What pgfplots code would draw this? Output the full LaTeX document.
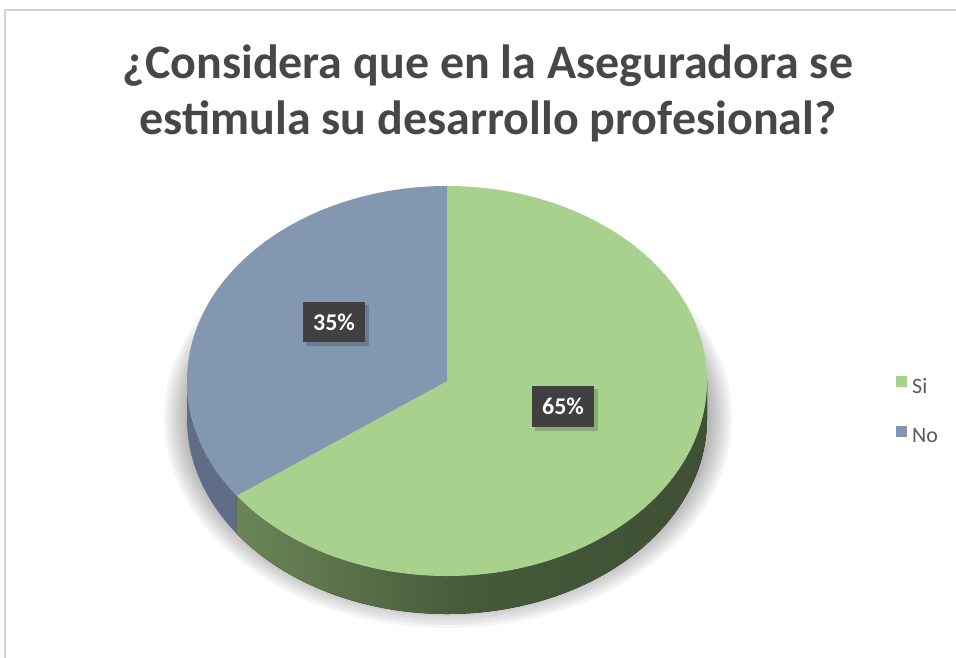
\documentclass[border=0pt]{standalone}
\usepackage{pgfplots}
\pgfplotsset{compat=1.18}
\usepackage{pgfplotstable}
\usepackage{fontspec}
\setmainfont{Carlito}
\definecolor{sigreen}{HTML}{A9D18E}
\definecolor{noblue}{HTML}{8497B0}
\definecolor{noside}{HTML}{5F6E86}
\definecolor{gsideL}{HTML}{6A8656}
\definecolor{gsideM}{HTML}{46593A}
\definecolor{gsideR}{HTML}{3F5034}
\definecolor{labbox}{HTML}{404040}
\definecolor{titlecol}{HTML}{474747}
\definecolor{legcol}{HTML}{595959}
\definecolor{bordercol}{HTML}{D4D4D4}
\begin{document}
\begin{tikzpicture}
\pgfplotstableread{
label value
Si 65
No 35
}\piedata
\pgfplotstablegetelem{0}{value}\of\piedata \let\vsi\pgfplotsretval
\pgfplotstablegetelem{1}{value}\of\piedata \let\vno\pgfplotsretval
\def\cx{447}\def\cy{381}\def\rx{260}\def\ry{195}\def\dep{38}
\pgfmathsetmacro\aend{90-3.6*\vsi+360}% boundary angle (216)
\pgfmathsetmacro\aendneg{\aend-360}
\pgfmathsetmacro\bx{\cx+\rx*cos(\aend)}
\pgfmathsetmacro\by{\cy-\ry*sin(\aend)}
\pgfmathsetmacro\lx{\cx-\rx}
\pgfmathsetmacro\ty{\cy-\ry}
\useasboundingbox (0,0) rectangle (956pt,657pt);
\begin{axis}[width=956pt,height=657pt,scale only axis,
  xmin=0,xmax=956,ymin=0,ymax=657,y dir=reverse,
  hide axis,clip=false,anchor=south west,at={(0,0)}]
% chart border
\draw[bordercol,line width=1.2pt] (axis cs:5,700) -- (axis cs:5,10) -- (axis cs:1000,10);
% soft shadow
\pgfplotsinvokeforeach{0,...,7}{
  \fill[black,opacity=0.04] (axis cs:448,418) ellipse[x radius=284pt-3pt*#1, y radius=210pt-3pt*#1];
}
% sides
\fill[noside] (axis cs:\lx,\cy) arc[start angle=180,end angle=\aend,x radius=\rx pt,y radius=\ry pt]
   -- ++(0,-\dep pt) arc[start angle=\aend,end angle=180,x radius=\rx pt,y radius=\ry pt] -- cycle;
\fill[left color=gsideL,right color=gsideR,middle color=gsideM] (axis cs:\bx,\by) arc[start angle=\aend,end angle=360,x radius=\rx pt,y radius=\ry pt]
   -- ++(0,-\dep pt) arc[start angle=360,end angle=\aend,x radius=\rx pt,y radius=\ry pt] -- cycle;
% tops
\fill[sigreen] (axis cs:\cx,\cy) -- (axis cs:\cx,\ty) arc[start angle=90,end angle=\aendneg,x radius=\rx pt,y radius=\ry pt] -- cycle;
\fill[noblue] (axis cs:\cx,\cy) -- (axis cs:\cx,\ty) arc[start angle=90,end angle=\aend,x radius=\rx pt,y radius=\ry pt] -- cycle;
% data labels
\fill[black,opacity=0.18] (axis cs:306,305) rectangle (axis cs:369,346);
\node[fill=labbox,text=white,font=\bfseries\fontsize{24}{28}\selectfont,minimum width=62pt,minimum height=40pt,inner sep=0pt] at (axis cs:334,322) {\vno\%};
\fill[black,opacity=0.18] (axis cs:535,389) rectangle (axis cs:598,431);
\node[fill=labbox,text=white,font=\bfseries\fontsize{24}{28}\selectfont,minimum width=62pt,minimum height=41pt,inner sep=0pt] at (axis cs:563,406) {\vsi\%};
% title
\node[anchor=base,text=titlecol,font=\bfseries\fontsize{48}{56}\selectfont,inner sep=0pt] at (axis cs:488,78) {¿Considera que en la Aseguradora se};
\node[anchor=base,text=titlecol,font=\bfseries\fontsize{48}{56}\selectfont,inner sep=0pt] at (axis cs:488,134) {estimula su desarrollo profesional?};
% legend
\fill[sigreen] (axis cs:896,376) rectangle (axis cs:907,387);
\node[anchor=base west,text=legcol,font=\fontsize{22}{24}\selectfont,inner sep=0pt] at (axis cs:912,393) {Si};
\fill[noblue] (axis cs:896,426) rectangle (axis cs:907,437);
\node[anchor=base west,text=legcol,font=\fontsize{22}{24}\selectfont,inner sep=0pt] at (axis cs:912,442) {No};
\end{axis}
\end{tikzpicture}
\end{document}
